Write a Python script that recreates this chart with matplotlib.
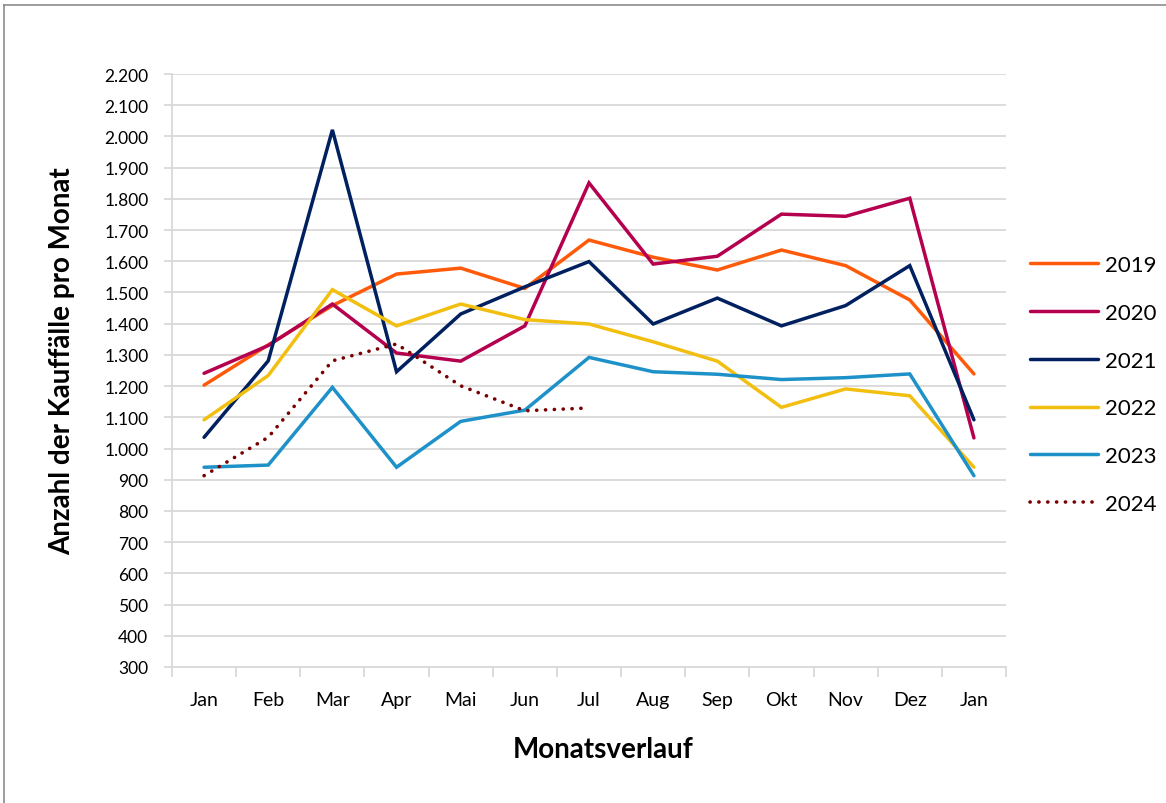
import matplotlib
matplotlib.use("Agg")
import matplotlib.pyplot as plt
from matplotlib.lines import Line2D
from matplotlib.ticker import FuncFormatter, FixedLocator

plt.rcParams['font.family'] = ['Lato', 'DejaVu Sans']

months = ["Jan", "Feb", "Mar", "Apr", "Mai", "Jun", "Jul", "Aug", "Sep", "Okt", "Nov", "Dez", "Jan"]
years = ["2019", "2020", "2021", "2022", "2023", "2024"]

v2019 = [1203, 1332, 1458, 1559, 1578, 1513, 1668, 1613, 1572, 1636, 1586, 1476, 1239]
v2020 = [1241, 1330, 1463, 1306, 1280, 1393, 1851, 1591, 1616, 1751, 1744, 1802, 1034]
v2021 = [1036, 1281, 2021, 1246, 1431, 1518, 1599, 1399, 1482, 1393, 1458, 1586, 1092]
v2022 = [1092, 1234, 1509, 1393, 1463, 1413, 1399, 1342, 1280, 1132, 1191, 1169, 940]
v2023 = [940, 947, 1196, 940, 1087, 1123, 1292, 1246, 1238, 1221, 1227, 1239, 913]
v2024 = [913, 1036, 1281, 1335, 1201, 1121, 1130]

series = [v2019, v2020, v2021, v2022, v2023, v2024]
colors = ["#FF5A0A", "#B4004E", "#002060", "#F2BF10", "#1E92C8", "#7A0000"]

W, H = 1166, 804
fig = plt.figure(figsize=(W / 100, H / 100), dpi=100)

# outer chart frame (only left & top visible)
fig.add_artist(Line2D([3.5 / W, 3.5 / W], [0, 1 - 5.5 / H], transform=fig.transFigure, color="#8c8c8c", lw=1.2))
fig.add_artist(Line2D([3.5 / W, 1], [1 - 5.5 / H, 1 - 5.5 / H], transform=fig.transFigure, color="#8c8c8c", lw=1.2))

left, right, top, bottom = 172, 1006, 75, 668
ax = fig.add_axes([left / W, (H - bottom) / H, (right - left) / W, (bottom - top) / H])

x = list(range(len(months)))
for name, vals, col in zip(years, series, colors):
    if name == "2024":
        ax.plot(x[:len(vals)], vals, color=col, lw=2.6, linestyle=(0, (0.05, 2.4)),
                dash_capstyle="round", solid_capstyle="round", label=name, zorder=3)
    else:
        ax.plot(x[:len(vals)], vals, color=col, lw=2.5, solid_capstyle="round",
                solid_joinstyle="miter", label=name, zorder=3)

ax.set_xlim(-0.5, len(months) - 0.5)
ax.set_ylim(300, 2200)
yt = list(range(300, 2201, 100))
ax.yaxis.set_major_locator(FixedLocator(yt))
ax.yaxis.set_major_formatter(FuncFormatter(lambda v, p: f"{int(v):,}".replace(",", ".")))
ax.set_xticks(x)
ax.set_xticklabels(months)
ax.set_xticks([i - 0.5 for i in range(len(months) + 1)], minor=True)

ax.grid(axis="y", color="#d9d9d9", lw=1.3, zorder=0)
for s in ["top", "right"]:
    ax.spines[s].set_visible(False)
for s in ["left", "bottom"]:
    ax.spines[s].set_color("#d9d9d9")
    ax.spines[s].set_linewidth(1.3)

ax.tick_params(axis="y", which="major", length=6, color="#d9d9d9", width=1.3, labelsize=12.5, pad=11)
ax.tick_params(axis="x", which="major", length=0, labelsize=14, pad=17)
ax.tick_params(axis="x", which="minor", length=7, color="#d9d9d9", width=1.3)

fig.text(62 / W, 1 - 361 / H, "Anzahl der Kauffälle pro Monat", rotation=90, fontsize=20,
         fontweight="bold", ha="center", va="center")
fig.text(603 / W, 1 - 750 / H, "Monatsverlauf", fontsize=20, fontweight="bold",
         ha="center", va="center")

ax.legend(loc="upper left", bbox_to_anchor=(1030 / W, 1 - 256 / H), bbox_transform=fig.transFigure,
          frameon=False, fontsize=16, handlelength=3.05, handletextpad=0.32, labelspacing=1.25,
          borderaxespad=0, borderpad=0)

fig.savefig("out.png", dpi=100, facecolor="white")
